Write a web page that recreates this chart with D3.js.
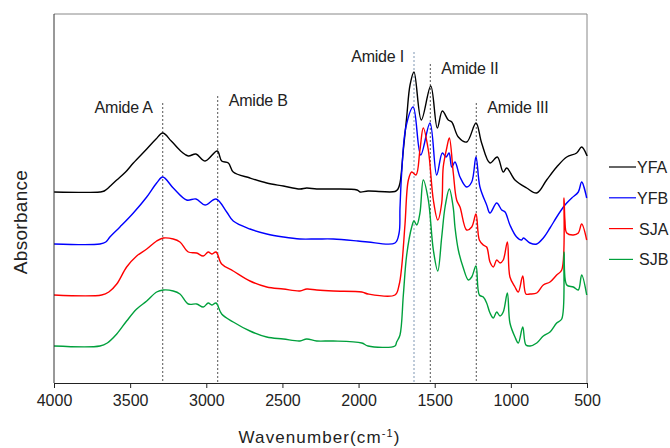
<!DOCTYPE html>
<html>
<head>
<meta charset="utf-8">
<script src="https://cdn.jsdelivr.net/npm/d3@7"></script>
<style>
  body { margin: 0; background: #fff; }
  text { font-family: "Liberation Sans", Arial, sans-serif; fill: #222; }
</style>
</head>
<body>
<div id="chart"></div>
<script>
// wavenumber (cm-1), absorbance (stacked, arbitrary units)
const YFA = [
  [4000, 1.91], [3698, 1.91], [3670, 1.92], [3630, 1.97], [3588, 2.03], [3530, 2.11], [3479, 2.20], [3391, 2.34],
  [3330, 2.44], [3286, 2.50], [3230, 2.42], [3161, 2.31], [3118, 2.27], [3068, 2.29], [3008, 2.22], [2928, 2.32],
  [2899, 2.22], [2855, 2.20], [2823, 2.11], [2713, 2.05], [2603, 2.00], [2494, 1.97],
  [2385, 1.94], [2341, 1.95], [2275, 1.94], [2166, 1.94], [2010, 1.93], [1990, 1.91],
  [1938, 1.92], [1761, 1.915], [1741, 1.94], [1728, 2.00], [1706, 2.33], [1684, 2.66],
  [1662, 2.98], [1636, 3.11], [1588, 2.63], [1526, 2.97], [1483, 2.55], [1450, 2.72],
  [1411, 2.63], [1388, 2.61], [1345, 2.46], [1290, 2.41], [1229, 2.60], [1192, 2.40],
  [1137, 2.20], [1089, 2.26], [1050, 2.11], [1027, 2.15], [973, 2.03], [896, 1.95],
  [830, 1.90], [765, 2.03], [699, 2.16], [633, 2.26], [568, 2.30], [535, 2.36],
  [502, 2.28], [500, 2.27]
];
const YFB = [
  [4000, 1.39], [3698, 1.39], [3660, 1.41], [3633, 1.46], [3567, 1.56], [3479, 1.70], [3391, 1.86],
  [3326, 2.00], [3286, 2.06], [3217, 1.95], [3129, 1.83], [3068, 1.84], [3008, 1.78],
  [2936, 1.84], [2866, 1.71], [2823, 1.62], [2713, 1.54], [2603, 1.49], [2494, 1.46],
  [2385, 1.44], [2275, 1.44], [2166, 1.44], [2004, 1.42], [1938, 1.41], [1761, 1.40],
  [1734, 1.50], [1728, 1.75], [1717, 2.10], [1689, 2.56], [1641, 2.76], [1592, 2.28],
  [1531, 2.60], [1487, 2.08], [1450, 2.30], [1426, 2.26], [1406, 2.30], [1388, 2.16],
  [1367, 2.21], [1334, 2.06], [1290, 1.96], [1257, 2.01], [1229, 2.26], [1203, 1.96],
  [1159, 1.78], [1137, 1.70], [1093, 1.80], [1060, 1.73], [1038, 1.71], [1006, 1.58],
  [962, 1.46], [929, 1.43], [918, 1.45], [874, 1.40], [830, 1.39], [787, 1.45],
  [743, 1.55], [699, 1.66], [655, 1.76], [633, 1.80], [600, 1.85], [557, 1.91],
  [535, 2.01], [502, 1.85]
];
const SJA = [
  [4000, 0.88], [3687, 0.88], [3640, 0.91], [3588, 0.99], [3523, 1.16], [3457, 1.27], [3391, 1.34],
  [3326, 1.42], [3282, 1.45], [3217, 1.44], [3173, 1.41], [3118, 1.31], [3063, 1.30],
  [3020, 1.27], [2987, 1.31], [2964, 1.29], [2936, 1.31], [2899, 1.19], [2823, 1.12],
  [2713, 1.02], [2603, 0.96], [2494, 0.94], [2385, 0.92], [2340, 0.94], [2275, 0.93],
  [2166, 0.92], [1979, 0.91], [1938, 0.89], [1761, 0.88], [1734, 0.98], [1717, 1.16],
  [1695, 1.59], [1673, 2.03], [1651, 2.11], [1623, 2.08], [1597, 2.33], [1575, 2.55],
  [1542, 2.33], [1509, 1.83], [1480, 1.63], [1454, 1.80], [1444, 2.16], [1421, 2.35],
  [1404, 2.45], [1378, 2.10], [1356, 1.83], [1334, 1.76], [1290, 1.53], [1257, 1.56],
  [1229, 1.69], [1207, 1.43], [1181, 1.38], [1159, 1.36], [1137, 1.21], [1115, 1.16],
  [1093, 1.23], [1071, 1.20], [1050, 1.23], [1023, 1.41], [1006, 1.06], [973, 0.96],
  [951, 0.91], [922, 1.07], [901, 0.89], [874, 0.89], [830, 0.90], [787, 0.98],
  [743, 1.01], [699, 1.08], [666, 1.13], [651, 1.85], [645, 1.63], [633, 1.50],
  [590, 1.48], [557, 1.50], [535, 1.59], [502, 1.43]
];
const SJB = [
  [4000, 0.37], [3698, 0.37], [3650, 0.40], [3588, 0.49], [3523, 0.62], [3457, 0.74], [3391, 0.82],
  [3326, 0.91], [3282, 0.93], [3217, 0.92], [3173, 0.89], [3118, 0.79], [3063, 0.79],
  [3020, 0.76], [2987, 0.80], [2964, 0.78], [2936, 0.80], [2899, 0.69], [2823, 0.61],
  [2713, 0.52], [2603, 0.46], [2494, 0.44], [2385, 0.42], [2341, 0.44], [2275, 0.42],
  [2166, 0.42], [1979, 0.40], [1938, 0.37], [1761, 0.37], [1750, 0.41], [1728, 0.48],
  [1706, 0.88], [1684, 1.28], [1651, 1.56], [1636, 1.62], [1618, 1.58], [1597, 1.70],
  [1575, 2.03], [1542, 1.83], [1509, 1.33], [1480, 1.12], [1454, 1.46], [1432, 1.76],
  [1404, 1.94], [1378, 1.75], [1367, 1.56], [1345, 1.33], [1312, 1.15], [1279, 1.03],
  [1257, 1.06], [1229, 1.17], [1207, 0.88], [1181, 0.86], [1159, 0.80], [1137, 0.70],
  [1115, 0.65], [1093, 0.71], [1071, 0.67], [1050, 0.71], [1023, 0.90], [1006, 0.60],
  [973, 0.46], [951, 0.40], [922, 0.56], [901, 0.38], [874, 0.37], [830, 0.40],
  [787, 0.47], [743, 0.51], [699, 0.60], [666, 0.64], [651, 1.31], [633, 0.98],
  [590, 0.96], [557, 0.93], [535, 1.08], [502, 0.88]
];

const seriesNames = ["YFA", "YFB", "SJA", "SJB"];
const seriesColors = ["#000000", "#0000ff", "#ff0000", "#00a03c"];
const seriesData = [YFA, YFB, SJA, SJB];

const xTicks = [4000, 3500, 3000, 2500, 2000, 1500, 1000, 500];

// band markers: name, wavenumber, top of dashed line (absorbance units)
const bandNames = ["Amide A", "Amide B", "Amide I", "Amide II", "Amide III"];
const bandWn = [3286, 2925, 1636, 1529, 1227];
const bandTop = [2.80, 2.87, 3.31, 3.19, 2.80];

const margin = { top: 14, right: 83, bottom: 65, left: 54 },
    W = 670, H = 448,
    width = W - margin.left - margin.right,
    height = H - margin.top - margin.bottom;

const svg = d3.select("#chart").append("svg")
    .attr("width", W)
    .attr("height", H);

const g = svg.append("g")
    .attr("transform", `translate(${margin.left},${margin.top})`);

const x = d3.scaleLinear().domain([4000, 500]).range([0, width]);
const y = d3.scaleLinear().domain([0, 3.69]).range([height, 0]);

// frame (top/right)
g.append("path")
    .attr("d", `M0,0H${width}V${height}`)
    .attr("fill", "none")
    .attr("stroke", "#888")
    .attr("stroke-width", 1);

// dashed band lines
g.selectAll(".band")
    .data(bandNames)
    .enter()
    .append("line")
    .attr("class", "band")
    .attr("x1", (d, i) => x(bandWn[i]))
    .attr("x2", (d, i) => x(bandWn[i]))
    .attr("y1", (d, i) => y(bandTop[i]))
    .attr("y2", height)
    .attr("stroke", (d, i) => i === 2 ? "#7f97b3" : "#555")
    .attr("stroke-width", 1)
    .attr("stroke-dasharray", "2,2");

// band labels
const labelSide = ["end", "start", "end", "start", "start"];
g.selectAll(".bandLabel")
    .data(bandNames)
    .enter()
    .append("text")
    .attr("class", "bandLabel")
    .attr("x", (d, i) => x(bandWn[i]) + (labelSide[i] === "end" ? -10 : 11))
    .attr("y", (d, i) => y(bandTop[i]) + 10)
    .attr("text-anchor", (d, i) => labelSide[i])
    .style("font-size", "16px")
    .style("letter-spacing", "-0.2px")
    .text(d => d);

// spectra
const line = d3.line()
    .x(d => x(d[0]))
    .y(d => y(d[1]))
    .curve(d3.curveCatmullRom.alpha(0.5));

g.selectAll(".spec")
    .data(seriesData)
    .enter()
    .append("path")
    .attr("class", "spec")
    .attr("d", line)
    .attr("fill", "none")
    .attr("stroke", (d, i) => seriesColors[i])
    .attr("stroke-width", 1.4)
    .attr("stroke-linejoin", "round");

// axes
const xAxis = g.append("g")
    .attr("transform", `translate(0,${height})`)
    .call(d3.axisBottom(x).tickValues(xTicks).tickFormat(d3.format("d"))
        .tickSize(5).tickSizeOuter(0).tickPadding(7));
xAxis.select(".domain").attr("stroke", "#222");
xAxis.selectAll(".tick line").attr("stroke", "#222");
xAxis.selectAll("text")
    .style("font-size", "16px")
    .style("font-family", "'Liberation Sans', Arial, sans-serif")
    .attr("fill", "#222");

g.append("line")
    .attr("x1", 0).attr("x2", 0)
    .attr("y1", 0).attr("y2", height)
    .attr("stroke", "#333");

// axis titles
const xt = svg.append("text")
    .attr("x", margin.left + width / 2 - 1)
    .attr("y", 443)
    .attr("text-anchor", "middle")
    .style("font-size", "17px")
    .style("letter-spacing", "1.1px");
xt.append("tspan").text("Wavenumber(cm");
xt.append("tspan").attr("dy", -6).style("font-size", "11px").text("-1");
xt.append("tspan").attr("dy", 6).text(")");

svg.append("text")
    .attr("transform", `translate(27,${margin.top + 208}) rotate(-90)`)
    .attr("text-anchor", "middle")
    .style("font-size", "19px")
    .style("letter-spacing", "0.3px")
    .text("Absorbance");

// legend
const legend = svg.append("g")
    .attr("transform", `translate(609,167)`);
const items = legend.selectAll("g")
    .data(seriesNames)
    .enter()
    .append("g")
    .attr("transform", (d, i) => `translate(0,${i * 30.8})`);
items.append("line")
    .attr("x1", 0).attr("x2", (d, i) => i < 2 ? 27 : 24)
    .attr("stroke", (d, i) => seriesColors[i])
    .attr("stroke-width", 1.2);
items.append("text")
    .attr("x", (d, i) => i < 2 ? 28 : 30)
    .attr("y", 6)
    .style("font-size", "16px")
    .text(d => d);
</script>
</body>
</html>
